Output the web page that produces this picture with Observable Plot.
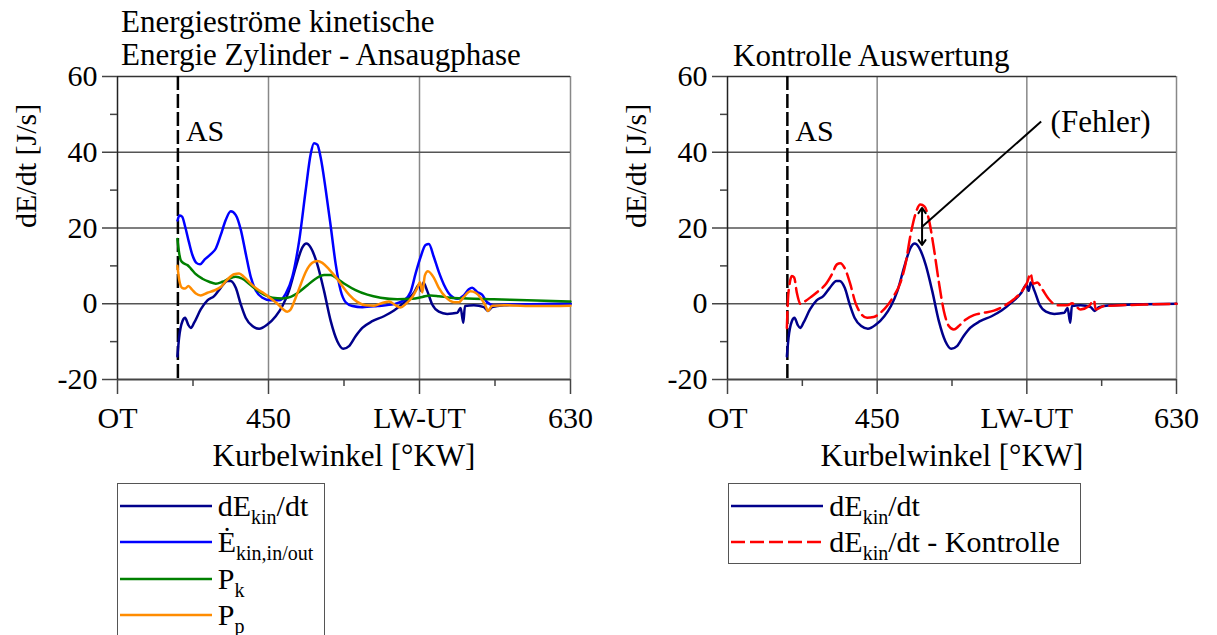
<!DOCTYPE html>
<html><head><meta charset="utf-8">
<script src="https://cdn.jsdelivr.net/npm/d3@7"></script>
<script src="https://cdn.jsdelivr.net/npm/@observablehq/plot@0.6"></script>
<style>
html,body{margin:0;padding:0;background:#fff;}
#root{position:relative;width:1217px;height:635px;overflow:hidden;background:#fff;font-family:"Liberation Serif","Times New Roman",serif;color:#000;}
.title{position:absolute;font-size:31px;line-height:33px;white-space:nowrap;}
.legend{position:absolute;border:1.5px solid #555;background:#fff;box-sizing:border-box;}
.ltext{position:absolute;font-size:30px;line-height:30px;white-space:nowrap;}
.ltext sub{font-size:20px;vertical-align:-8px;line-height:0;}
.lsvg{position:absolute;overflow:visible;}
</style></head><body><div id="root"></div>
<script>
// ---- data (crank angle in °KW, value in J/s) ----
const kinAngle = [395.7,396.7,398.7,400.3,402.1,403.7,405.7,409.6,413.6,417.6,421.5,425.5,427.5,430.5,433.5,436.4,440.4,444.4,449.3,454.3,458.3,462.2,466.2,470.2,472.6,475.1,479.1,483.1,487.1,491.0,494.6,498.0,501.9,505.9,511.9,518.8,524.8,530.7,536.7,539.7,541.1,542.3,544.6,547.6,551.5,556.5,562.5,564.5,566.1,567.1,572.4,578.4,580.8,583.3,590.3,604.2,630];
const kinValue = [-13.9,-9.0,-4.6,-3.7,-5.5,-6.4,-5.0,-1.5,0.9,2.0,4.2,6.0,6.0,4.2,-0.2,-3.7,-5.9,-6.6,-5.5,-3.3,-0.6,3.4,9.6,14.9,15.9,14.9,10.4,3.4,-4.6,-9.9,-11.9,-11.2,-8.6,-6.4,-4.6,-3.3,-1.8,0.3,2.9,5.0,3.4,5.6,3.4,-0.2,-2.1,-2.7,-2.4,-1.1,-5.0,-0.6,-0.4,-0.9,-1.9,-0.9,-0.4,-0.2,0.0];

const flowAngle = [395.8,396.9,398.5,400.3,402.5,404.7,407.0,409.2,412.0,415.6,418.6,421.5,424.5,427.5,430.5,433.5,436.4,439.4,442.4,446.4,451.3,456.3,460.3,464.2,468.2,472.2,475.1,477.1,479.1,481.1,484.1,487.1,490.0,493.0,496.0,500.0,505.9,514.9,524.8,530.7,534.7,537.7,540.7,543.6,545.6,548.5,551.5,554.5,558.5,562.5,566.4,569.4,571.4,574.4,577.3,580.3,584.3,595.2,630];
const flowValue = [22.0,23.3,23.0,20.4,16.4,12.8,10.8,10.4,11.7,13.1,14.6,18.1,22.1,24.4,23.4,19.5,13.3,7.1,3.5,1.6,0.9,0.9,2.7,7.1,16.4,30.1,39.4,42.4,42.0,38.6,30.1,20.4,10.6,3.5,0.4,-0.6,-0.9,-0.6,-0.1,0.9,3.1,8.0,12.4,15.5,15.8,12.4,8.4,5.1,2.2,1.3,2.2,3.8,4.2,3.1,2.4,0.4,-0.4,-0.2,0.0];

const pkAngle = [395.7,396.7,397.7,399.7,401.7,403.7,406.7,410.6,414.6,418.6,422.5,426.5,430.5,434.4,438.4,442.4,447.4,452.3,458.3,463.2,468.2,473.2,478.1,483.1,487.1,491.0,496.0,501.9,508.9,516.8,526.8,535.7,541.7,546.6,551.5,558.5,568.4,584.3,604.2,630];
const pkValue = [17.1,13.5,11.5,10.6,10.2,9.3,7.8,6.6,5.8,5.3,5.8,6.6,7.1,6.6,5.3,3.8,2.4,1.6,1.4,1.8,3.1,4.9,6.6,7.6,7.6,6.6,5.1,3.6,2.4,1.6,1.2,1.3,1.8,2.2,2.0,1.6,1.4,1.2,0.9,0.6];

const ppAngle = [395.7,396.9,398.5,400.3,402.3,404.3,406.7,409.6,413.6,417.6,421.5,425.5,429.5,432.5,435.4,439.4,443.4,447.4,451.3,455.3,458.3,461.2,463.2,466.2,469.2,472.2,476.1,479.1,482.1,486.1,490.0,494.0,498.0,502.9,507.9,512.8,517.8,521.8,525.8,528.7,531.7,535.7,538.7,540.3,541.7,543.2,545.0,548.5,551.5,555.5,560.5,563.5,566.4,570.4,573.4,576.4,579.3,580.8,583.3,590.3,610,630];
const ppValue = [10.0,6.0,4.2,4.0,4.7,3.8,2.7,2.2,2.9,3.5,4.4,6.4,7.8,8.0,7.1,5.3,3.8,2.7,1.4,0.0,-1.3,-2.1,-1.5,1.6,5.1,8.4,10.8,11.3,10.8,9.1,7.1,4.7,2.4,0.5,-0.4,-0.5,0.2,0.6,-0.4,-1.0,-0.1,1.8,4.2,5.7,3.0,7.5,8.6,6.9,4.2,1.8,0.4,0.4,1.8,3.3,2.9,1.6,-0.5,-1.9,-0.5,-0.4,-0.6,-0.5];

const ctrlAngle = [395.7,396.3,397.3,398.7,400.1,401.7,403.8,406.8,410.8,414.8,418.8,422.8,425.8,427.8,430.8,433.9,436.9,439.9,443.9,447.9,451.9,455.9,459.9,464.0,467.0,470.0,473.0,476.0,478.4,481.0,484.0,487.0,490.1,493.1,496.1,499.1,503.1,508.1,514.1,520.2,526.2,532.2,537.2,540.2,542.2,543.8,546.3,549.3,553.3,558.3,564.3,567.3,572.3,577.4,580.4,581.4,586.4,596.4,610.5,630];
const ctrlValue = [-6.4,0.7,5.1,7.3,6.9,2.9,0.0,0.7,2.0,3.4,5.0,7.8,10.4,10.7,9.1,5.1,0.3,-2.4,-3.7,-3.5,-2.4,-0.6,2.0,5.6,10.4,18.0,23.7,26.2,25.7,22.4,14.9,6.0,-1.9,-5.9,-6.8,-5.9,-4.2,-3.0,-2.4,-1.8,-0.6,1.2,3.4,5.6,8.0,5.3,5.6,3.8,1.2,-0.4,-0.4,0.1,-1.5,-0.6,0.9,-1.5,-0.6,-0.4,-0.2,0.0];

// axes
const xTicksMajor = [360, 450, 540, 630];
const xTickLabels = ["OT", "450", "LW-UT", "630"];
const xTicksMinor = [405, 495, 585];
const yTicksMajor = [-20, 0, 20, 40, 60];
const yTicksMinor = [-10, 10, 30, 50];
const xDomain = [360, 630];
const yDomain = [-20, 60];
const xLabel = "Kurbelwinkel [°KW]";
const yLabel = "dE/dt [J/s]";

// annotations
const asAngle = 396;
const asLabelValue = 43;
const errAngle = 477;
const errTop = 25.3, errMid = 20.3, errBottom = 15.5;
const errLabelAngle = 554.3, errLabelValue = 45.3;
const errLineEndAngle = 548.6, errLineEndValue = 48.1;

// series definitions
const colors = {kin: "#00008b", flow: "#0000ff", pk: "#008000", pp: "#ff8c00", ctrl: "#ff0000"};
const toRows = (a, v) => a.map((x, i) => ({x, y: v[i]}));
const kinRows = toRows(kinAngle, kinValue);
const flowRows = toRows(flowAngle, flowValue);
const pkRows = toRows(pkAngle, pkValue);
const ppRows = toRows(ppAngle, ppValue);
const ctrlRows = toRows(ctrlAngle, ctrlValue);

const FONT = "'Liberation Serif','Times New Roman',serif";

function frameMarks() {
  return [
    Plot.ruleX([450, 540, 630], {stroke: "#888", strokeWidth: 1.5}),
    Plot.ruleY([0, 20, 40], {stroke: "#555", strokeWidth: 1.5}),
    Plot.ruleY([60], {stroke: "#333", strokeWidth: 1.5}),
    Plot.ruleY([-20], {stroke: "#444", strokeWidth: 2}),
    Plot.ruleX([360], {stroke: "#222", strokeWidth: 1.5}),
    Plot.axisX(xTicksMajor, {tickSize: 15, tickPadding: 12, stroke: "#444", strokeWidth: 1.5, fontSize: 30, fontFamily: FONT, label: null,
      tickFormat: d => xTickLabels[xTicksMajor.indexOf(d)]}),
    Plot.axisX(xTicksMinor, {tickSize: 7, stroke: "#444", strokeWidth: 1.5, label: null, tickFormat: () => ""}),
    Plot.axisY(yTicksMajor, {tickSize: 15, tickPadding: 5, stroke: "#444", strokeWidth: 1.5, fontSize: 30, fontFamily: FONT, label: null,
      tickFormat: d => d3.format("d")(d).replace("−", "-")}),
    Plot.axisY(yTicksMinor, {tickSize: 7, stroke: "#444", strokeWidth: 1.5, label: null, tickFormat: () => ""}),
    Plot.text([xLabel], {frameAnchor: "bottom", lineAnchor: "bottom", dy: 86, fontSize: 31, fontFamily: FONT, fill: "#000"}),
    Plot.text([yLabel], {frameAnchor: "left", lineAnchor: "bottom", rotate: -90, dx: -82, fontSize: 30, fontFamily: FONT, fill: "#000"}),
    Plot.ruleX([asAngle], {stroke: "#000", strokeWidth: 2.5, strokeDasharray: "14,4"}),
    Plot.text([{x: asAngle, y: asLabelValue}], {x: "x", y: "y", text: () => "AS", textAnchor: "start", lineAnchor: "bottom", dx: 8, fontSize: 30, fontFamily: FONT, fill: "#000"})
  ];
}

function panel(marks, marginRight) {
  const svg = Plot.plot({
    width: 600, height: 480,
    marginLeft: 117, marginRight, marginTop: 76, marginBottom: 101,
    style: {fontFamily: FONT, fontSize: "30px", color: "#000", background: "transparent", overflow: "visible"},
    x: {domain: xDomain},
    y: {domain: yDomain},
    marks: [...frameMarks(), ...marks]
  });
  svg.style.position = "absolute";
  svg.style.top = "0px";
  return svg;
}

const root = document.getElementById("root");

const left = panel([
  Plot.line(kinRows, {x: "x", y: "y", stroke: colors.kin, strokeWidth: 2.5, curve: "monotone-x"}),
  Plot.line(flowRows, {x: "x", y: "y", stroke: colors.flow, strokeWidth: 2.5, curve: "monotone-x"}),
  Plot.line(pkRows, {x: "x", y: "y", stroke: colors.pk, strokeWidth: 2.5, curve: "monotone-x"}),
  Plot.line(ppRows, {x: "x", y: "y", stroke: colors.pp, strokeWidth: 2.5, curve: "monotone-x"})
], 30);
left.style.left = "0px";
root.appendChild(left);

const right = panel([
  Plot.line(kinRows, {x: "x", y: "y", stroke: colors.kin, strokeWidth: 2.5, curve: "monotone-x"}),
  Plot.line(ctrlRows, {x: "x", y: "y", stroke: colors.ctrl, strokeWidth: 2.5, strokeDasharray: "16,6", curve: "monotone-x"}),
  Plot.link([{x1: errAngle, y1: errMid, x2: errLineEndAngle, y2: errLineEndValue}], {x1: "x1", y1: "y1", x2: "x2", y2: "y2", stroke: "#000", strokeWidth: 2}),
  Plot.arrow([{x1: errAngle, y1: errMid, x2: errAngle, y2: errTop}, {x1: errAngle, y1: errMid, x2: errAngle, y2: errBottom}],
    {x1: "x1", y1: "y1", x2: "x2", y2: "y2", stroke: "#000", strokeWidth: 2, headLength: 9, headAngle: 70}),
  Plot.text([{x: errLabelAngle, y: errLabelValue}], {x: "x", y: "y", text: () => "(Fehler)", textAnchor: "start", lineAnchor: "bottom", fontSize: 31, fontFamily: FONT, fill: "#000"})
], 34);
right.style.left = "610px";
root.appendChild(right);

// titles
function addTitle(html, x, y) {
  const d = document.createElement("div");
  d.className = "title";
  d.style.left = x + "px";
  d.style.top = y + "px";
  d.innerHTML = html;
  root.appendChild(d);
}
addTitle("Energieströme kinetische<br>Energie Zylinder - Ansaugphase", 121, 5);
addTitle("Kontrolle Auswertung", 733, 39);

// legends
function addLegend(x, y, w, h, items) {
  const box = document.createElement("div");
  box.className = "legend";
  Object.assign(box.style, {left: x + "px", top: y + "px", width: w + "px", height: h + "px"});
  items.forEach((it, i) => {
    const c = 22.3 + i * 36.5;
    const s = document.createElementNS("http://www.w3.org/2000/svg", "svg");
    s.setAttribute("class", "lsvg");
    s.setAttribute("width", "92"); s.setAttribute("height", "6");
    s.style.left = "2px"; s.style.top = (c - 3) + "px";
    const l = document.createElementNS("http://www.w3.org/2000/svg", "line");
    l.setAttribute("x1", "0"); l.setAttribute("x2", "92"); l.setAttribute("y1", "3"); l.setAttribute("y2", "3");
    l.setAttribute("stroke", it.color); l.setAttribute("stroke-width", "2.5");
    if (it.dash) l.setAttribute("stroke-dasharray", it.dash);
    s.appendChild(l);
    box.appendChild(s);
    const t = document.createElement("div");
    t.className = "ltext";
    t.style.left = "100px"; t.style.top = (c - 15) + "px";
    t.innerHTML = it.label;
    box.appendChild(t);
  });
  root.appendChild(box);
}
addLegend(116.7, 482.7, 208.5, 200, [
  {color: colors.kin, label: "dE<sub>kin</sub>/dt"},
  {color: colors.flow, label: "Ė<sub>kin,in/out</sub>"},
  {color: colors.pk, label: "P<sub>k</sub>"},
  {color: colors.pp, label: "P<sub>p</sub>"}
]);
addLegend(728.3, 482.7, 353, 81, [
  {color: colors.kin, label: "dE<sub>kin</sub>/dt"},
  {color: colors.ctrl, label: "dE<sub>kin</sub>/dt - Kontrolle", dash: "14,5"}
]);
</script>
</body></html>
